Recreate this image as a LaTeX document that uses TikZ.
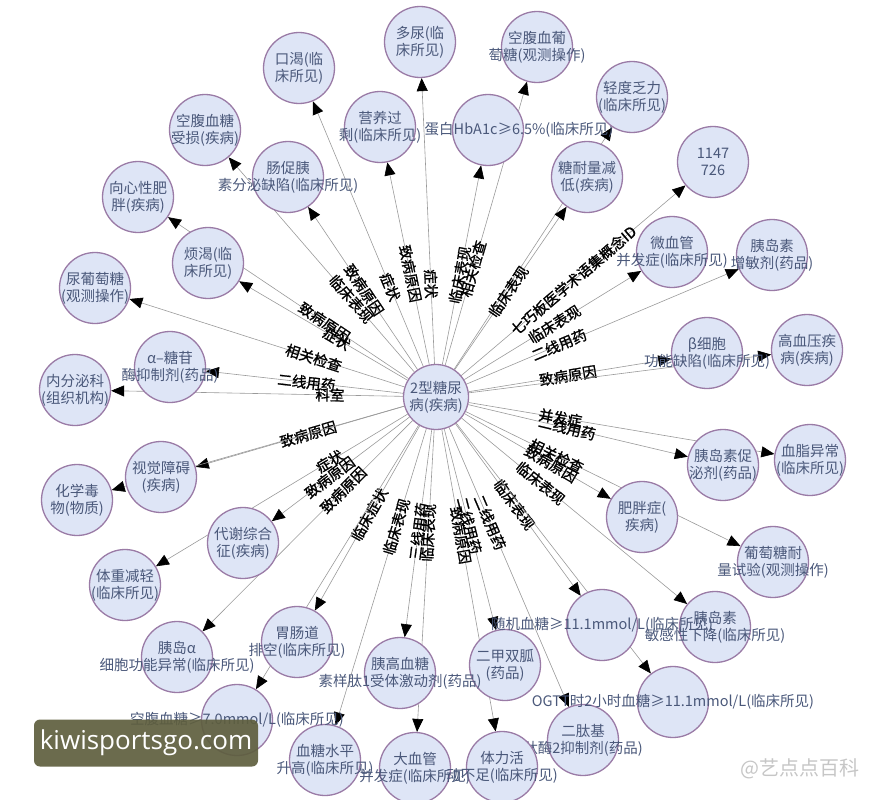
\documentclass[tikz,border=0pt]{standalone}
\usepackage{fontspec}
\setmainfont{Noto Sans CJK SC}
\newfontfamily\wmfont{Open Sans}
\newfontfamily\lblfont[FakeBold=1.2]{Noto Sans CJK SC}
\usepackage{tikz}
\usetikzlibrary{arrows.meta,backgrounds}
\definecolor{ballfill}{HTML}{DEE5F6}
\definecolor{ballrim}{HTML}{9A7BA6}
\definecolor{balltxt}{HTML}{4A587A}
\definecolor{edgecol}{HTML}{9A9A9A}
\definecolor{wmolive}{HTML}{5E5E3E}
\tikzstyle{ball} = [circle, minimum size=71pt, inner sep=0pt, draw=ballrim, line width=1.3pt, fill=ballfill]
\tikzstyle{balltext} = [align=center, text=balltxt, font=\fontsize{14.5}{17}\selectfont]
\tikzstyle{elabel} = [sloped, inner sep=1pt, text=black, font=\lblfont\fontsize{14.5}{16}\selectfont]
\tikzstyle{arrow} = [draw=edgecol, line width=0.6pt, -{Triangle[length=13pt,width=11pt,color=black]}]

\begin{document}
\begin{tikzpicture}[x=1pt, y=-1pt]
\useasboundingbox (0,0) rectangle (883,800);

\node(diabetes) [ball, minimum size=65pt, label={[balltext]center:{2型糖尿\\病(疾病)}}] at (436,397) {};
\node(thirst) [ball, label={[balltext]center:{口渴(临\\床所见)}}] at (299,68) {};
\node(polyuria) [ball, label={[balltext]center:{多尿(临\\床所见)}}] at (420,42) {};
\node(overnutri) [ball, label={[balltext]center:{营养过\\剩(临床所见)}}] at (380,127) {};
\node(hba) [ball, label={[balltext, xshift=31pt]center:{蛋白HbA1c≥6.5\%(临床所见)}}] at (488,130) {};
\node(fpgobs) [ball, label={[balltext]center:{空腹血葡\\萄糖(观测操作)}}] at (537,47) {};
\node(fatigue) [ball, label={[balltext]center:{轻度乏力\\(临床所见)}}] at (632,97) {};
\node(igt) [ball, label={[balltext]center:{糖耐量减\\低(疾病)}}] at (587,177) {};
\node(conceptid) [ball, label={[balltext]center:{1147\\726}}] at (713,162) {};
\node(microvas) [ball, label={[balltext]center:{微血管\\并发症(临床所见)}}] at (672,252) {};
\node(sensitizer) [ball, label={[balltext]center:{胰岛素\\增敏剂(药品)}}] at (772,255) {};
\node(betacell) [ball, label={[balltext]center:{β细胞\\功能缺陷(临床所见)}}] at (707,353) {};
\node(hypertens) [ball, label={[balltext]center:{高血压疾\\病(疾病)}}] at (807,350) {};
\node(secretag) [ball, label={[balltext]center:{胰岛素促\\泌剂(药品)}}] at (723,465) {};
\node(lipid) [ball, label={[balltext]center:{血脂异常\\(临床所见)}}] at (810,460) {};
\node(obesity) [ball, label={[balltext]center:{肥胖症(\\疾病)}}] at (642,517) {};
\node(ogttobs) [ball, label={[balltext]center:{葡萄糖耐\\量试验(观测操作)}}] at (773,562) {};
\node(insresist) [ball, label={[balltext]center:{胰岛素\\敏感性下降(临床所见)}}] at (715,627) {};
\node(metformin) [ball, label={[balltext]center:{二甲双胍\\(药品)}}] at (505,665) {};
\node(randomglu) [ball, label={[balltext]center:{随机血糖≥11.1mmol/L(临床所见)}}] at (602,625) {};
\node(dpp) [ball, label={[balltext]center:{二肽基\\肽酶2抑制剂(药品)}}] at (583,740) {};
\node(ogtt) [ball, label={[balltext]center:{OGTT时2小时血糖≥11.1mmol/L(临床所见)}}] at (673,702) {};
\node(macrovas) [ball, label={[balltext]center:{大血管\\并发症(临床所见)}}] at (415,768) {};
\node(inactive) [ball, label={[balltext]center:{体力活\\动不足(临床所见)}}] at (502,767) {};
\node(glp) [ball, label={[balltext]center:{胰高血糖\\素样肽1受体激动剂(药品)}}] at (400,673) {};
\node(gastric) [ball, label={[balltext]center:{胃肠道\\排空(临床所见)}}] at (297,642) {};
\node(hyperglu) [ball, label={[balltext]center:{血糖水平\\升高(临床所见)}}] at (325,760) {};
\node(fpghigh) [ball, label={[balltext]center:{空腹血糖≥7.0mmol/L(临床所见)}}] at (237,720) {};
\node(alphacell) [ball, label={[balltext]center:{胰岛α\\细胞功能异常(临床所见)}}] at (177,657) {};
\node(metsyn) [ball, label={[balltext]center:{代谢综合\\征(疾病)}}] at (243,543) {};
\node(weightloss) [ball, label={[balltext]center:{体重减轻\\(临床所见)}}] at (125,585) {};
\node(vision) [ball, label={[balltext]center:{视觉障碍\\(疾病)}}] at (161,477) {};
\node(toxin) [ball, label={[balltext]center:{化学毒\\物(物质)}}] at (77,500) {};
\node(endocrine) [ball, label={[balltext]center:{内分泌科\\(组织机构)}}] at (75,390) {};
\node(agi) [ball, label={[balltext]center:{α–糖苷\\酶抑制剂(药品)}}] at (170,367) {};
\node(urineglu) [ball, label={[balltext]center:{尿葡萄糖\\(观测操作)}}] at (95,288) {};
\node(polydipsia) [ball, label={[balltext]center:{烦渴(临\\床所见)}}] at (208,263) {};
\node(central) [ball, label={[balltext]center:{向心性肥\\胖(疾病)}}] at (138,197) {};
\node(ifg) [ball, label={[balltext]center:{空腹血糖\\受损(疾病)}}] at (205,130) {};
\node(incretin) [ball, label={[balltext]center:{肠促胰\\素分泌缺陷(临床所见)}}] at (288,177) {};

\begin{scope}[on background layer]
\draw [arrow] (diabetes) -- node[elabel, pos=0.30]{症状} (thirst);
\draw [arrow] (diabetes) -- node[elabel, pos=0.28]{症状} (polyuria);
\draw [arrow] (diabetes) -- node[elabel, pos=0.45]{致病原因} (overnutri);
\draw [arrow] (diabetes) -- node[elabel, pos=0.45]{临床表现} (hba);
\draw [arrow] (diabetes) -- node[elabel, pos=0.34]{相关检查} (fpgobs);
\draw [arrow] (diabetes) -- (fatigue);
\draw [arrow] (diabetes) -- node[elabel, pos=0.48]{临床表现} (igt);
\draw [arrow] (diabetes) -- node[elabel, pos=0.50]{七巧板医学术语集概念ID} (conceptid);
\draw [arrow] (diabetes) -- node[elabel, pos=0.51]{临床表现} (microvas);
\draw [arrow] (diabetes) -- node[elabel, pos=0.34]{二线用药} (sensitizer);
\draw [arrow] (diabetes) -- node[elabel, pos=0.49]{致病原因} (betacell);
\draw [arrow] (diabetes) -- (hypertens);
\draw [arrow] (diabetes) -- node[elabel, pos=0.45]{二线用药} (secretag);
\draw [arrow] (diabetes) -- node[elabel, pos=0.30]{并发症} (lipid);
\draw [arrow] (diabetes) -- node[elabel, pos=0.59]{致病原因} (obesity);
\draw [arrow] (diabetes) -- node[elabel, pos=0.33]{相关检查} (ogttobs);
\draw [arrow] (diabetes) -- node[elabel, pos=0.35]{临床表现} (insresist);
\draw [arrow] (diabetes) -- node[elabel, pos=0.47]{临床表现} (randomglu);
\draw [arrow] (diabetes) -- (ogtt);
\draw [arrow] (diabetes) -- node[elabel, pos=0.34]{二线用药} (dpp);
\draw [arrow] (diabetes) -- node[elabel, pos=0.48]{二线用药} (metformin);
\draw [arrow] (diabetes) -- node[elabel, pos=0.35]{致病原因} (inactive);
\draw [arrow] (diabetes) -- node[elabel, pos=0.34]{临床表现} (macrovas);
\draw [arrow] (diabetes) -- node[elabel, pos=0.49]{三线用药} (glp);
\draw [arrow] (diabetes) -- node[elabel, pos=0.33]{临床表现} (hyperglu);
\draw [arrow] (diabetes) -- node[elabel, pos=0.48]{临床症状} (gastric);
\draw [arrow] (diabetes) -- (fpghigh);
\draw [arrow] (diabetes) -- node[elabel, pos=0.33]{致病原因} (alphacell);
\draw [arrow] (diabetes) -- node[elabel, pos=0.58]{致病原因} (metsyn);
\draw [arrow] (diabetes) -- node[elabel, pos=0.31]{症状} (weightloss);
\draw [arrow] (diabetes) -- node[elabel, pos=0.46]{致病原因} (vision);
\draw [arrow] (diabetes) -- (toxin);
\draw [arrow] (diabetes) -- node[elabel, pos=0.25]{科室} (endocrine);
\draw [arrow] (diabetes) -- node[elabel, pos=0.49]{二线用药} (agi);
\draw [arrow] (diabetes) -- node[elabel, pos=0.33]{相关检查} (urineglu);
\draw [arrow] (diabetes) -- node[elabel, pos=0.42]{症状} (polydipsia);
\draw [arrow] (diabetes) -- node[elabel, pos=0.35]{致病原因} (central);
\draw [arrow] (diabetes) -- node[elabel, pos=0.34]{临床表现} (ifg);
\draw [arrow] (diabetes) -- node[elabel, pos=0.49]{致病原因} (incretin);
\end{scope}

% watermarks
\node(sitemark) [fill=wmolive, fill opacity=0.92, text opacity=1, rounded corners=6pt, minimum width=224pt, minimum height=47pt, text=white, font=\wmfont\fontsize{26}{28}\selectfont] at (146,743) {kiwisportsgo.com};
\node(baikemark) [text=gray!45, font=\fontsize{20}{22}\selectfont] at (800,769) {@艺点点百科};

\end{tikzpicture}
\end{document}
